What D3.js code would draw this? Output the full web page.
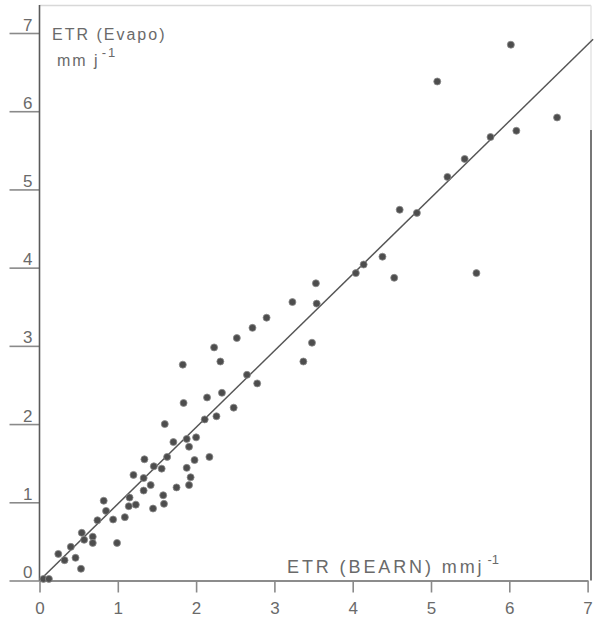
<!DOCTYPE html>
<html><head><meta charset="utf-8">
<script src="https://cdn.jsdelivr.net/npm/d3@7"></script>
<style>
html,body{margin:0;padding:0;background:#fff;}
svg{display:block;font-family:"Liberation Sans","Helvetica",Arial,sans-serif;}
</style></head>
<body><svg id="c" width="595" height="621"></svg>
<script>
// ETR (BEARN) values, mm/day
const bearnX = [2.33,2.14,1.84,1.60,2.11,2.26,1.71,1.88,2.00,1.91,1.34,1.63,1.46,1.56,1.98,2.17,1.88,1.93,1.91,1.75,
  1.20,1.33,1.42,1.33,1.15,0.82,0.85,1.14,1.23,1.58,1.59,1.45,1.09,0.94,0.74,0.54,0.57,0.68,0.68,0.99,
  0.40,0.24,0.32,0.46,0.53,0.05,0.12,
  3.53,3.23,3.54,2.90,2.72,2.52,2.23,1.83,2.31,3.48,3.37,2.65,2.78,2.48,4.14,4.04,
  6.02,5.08,6.61,6.09,5.76,5.43,5.21,4.60,4.82,4.38,4.53,5.58];
// ETR (Evapo) values, mm/day
const evapoY = [2.40,2.34,2.27,2.00,2.06,2.10,1.77,1.81,1.83,1.71,1.55,1.58,1.46,1.43,1.54,1.58,1.44,1.32,1.22,1.19,
  1.35,1.31,1.22,1.15,1.06,1.02,0.89,0.95,0.97,1.09,0.98,0.92,0.81,0.78,0.77,0.61,0.52,0.56,0.48,0.48,
  0.43,0.34,0.26,0.29,0.15,0.02,0.02,
  3.80,3.56,3.54,3.36,3.23,3.10,2.98,2.76,2.80,3.04,2.80,2.63,2.52,2.21,4.04,3.93,
  6.85,6.38,5.92,5.75,5.67,5.39,5.16,4.74,4.70,4.14,3.87,3.93];
// fitted line endpoints
const fitX = [0, 7.07];
const fitY = [0, 6.92];
const xTicks = [0,1,2,3,4,5,6,7];
const yTicks = [0,1,2,3,4,5,6,7];
const yTitle = "ETR (Evapo)";
const yUnit = "mm j";
const xTitle = "ETR (BEARN) mmj";

const svg = d3.select("#c");
const x = d3.scaleLinear().domain([0,7]).range([39.5,587.6]);
const y = d3.scaleLinear().domain([0,7]).range([580.5,33]);
const ink = "#5a5a5a", txt = "#6a6a6a";

// frame (top and right)
svg.append("line").attr("x1",x(0)).attr("x2",591).attr("y1",5.5).attr("y2",5.5)
  .attr("stroke","#d8d8d8").attr("stroke-width",1.5);
svg.append("line").attr("x1",591).attr("x2",591).attr("y1",5.5).attr("y2",130)
  .attr("stroke","#e4e4e4").attr("stroke-width",1.5);
svg.append("line").attr("x1",591).attr("x2",591).attr("y1",130).attr("y2",y(0))
  .attr("stroke","#777").attr("stroke-width",2);

// left axis
const ya = svg.append("g").attr("transform",`translate(${x(0)},0)`)
  .call(d3.axisLeft(y).tickValues(yTicks).tickFormat(d3.format("d")).tickSize(30).tickSizeOuter(0));
ya.select(".domain").remove();
ya.selectAll(".tick line").attr("stroke","#8a8a8a").attr("stroke-width",1.6);
ya.selectAll(".tick text").attr("x",-7).attr("y",-3).attr("dy",0)
  .attr("fill",txt).style("font-size","17px");
svg.append("line").attr("x1",x(0)).attr("x2",x(0)).attr("y1",5).attr("y2",y(0))
  .attr("stroke",ink).attr("stroke-width",1.6);

// bottom axis
const xa = svg.append("g").attr("transform",`translate(0,${y(0)})`)
  .call(d3.axisBottom(x).tickValues(xTicks).tickFormat(d3.format("d")).tickSize(12).tickPadding(9).tickSizeOuter(0));
xa.select(".domain").attr("stroke","#666").attr("stroke-width",1.5);
xa.selectAll(".tick line").attr("stroke","#8a8a8a").attr("stroke-width",1.6);
xa.selectAll(".tick text").attr("fill",txt).style("font-size","17px");

// fitted line
svg.append("line").attr("x1",x(fitX[0])).attr("y1",y(fitY[0])).attr("x2",x(fitX[1])).attr("y2",y(fitY[1]))
  .attr("stroke","#555").attr("stroke-width",1.5);

// points
svg.append("g").selectAll("circle").data(bearnX.map((v,i)=>[v,evapoY[i]])).join("circle")
  .attr("cx",d=>x(d[0])).attr("cy",d=>y(d[1])).attr("r",3.5)
  .attr("fill","#4d4d4d").attr("stroke","#8a8a8a").attr("stroke-width",0.8);

// titles
svg.append("text").attr("x",52).attr("y",40).attr("fill",txt)
  .style("font-size","16px").style("letter-spacing","2px").text(yTitle);
const t2 = svg.append("text").attr("x",57).attr("y",66).attr("fill",txt)
  .style("font-size","16px").style("letter-spacing","2px");
t2.append("tspan").text(yUnit);
t2.append("tspan").attr("dy",-9).attr("dx",2).style("font-size","13px").text("-1");
const t3 = svg.append("text").attr("x",287).attr("y",573).attr("fill",txt)
  .style("font-size","18px").style("letter-spacing","2.9px");
t3.append("tspan").text(xTitle);
t3.append("tspan").attr("dy",-9).attr("dx",3).style("font-size","13px").style("letter-spacing","0px").text("-1");
</script></body></html>
